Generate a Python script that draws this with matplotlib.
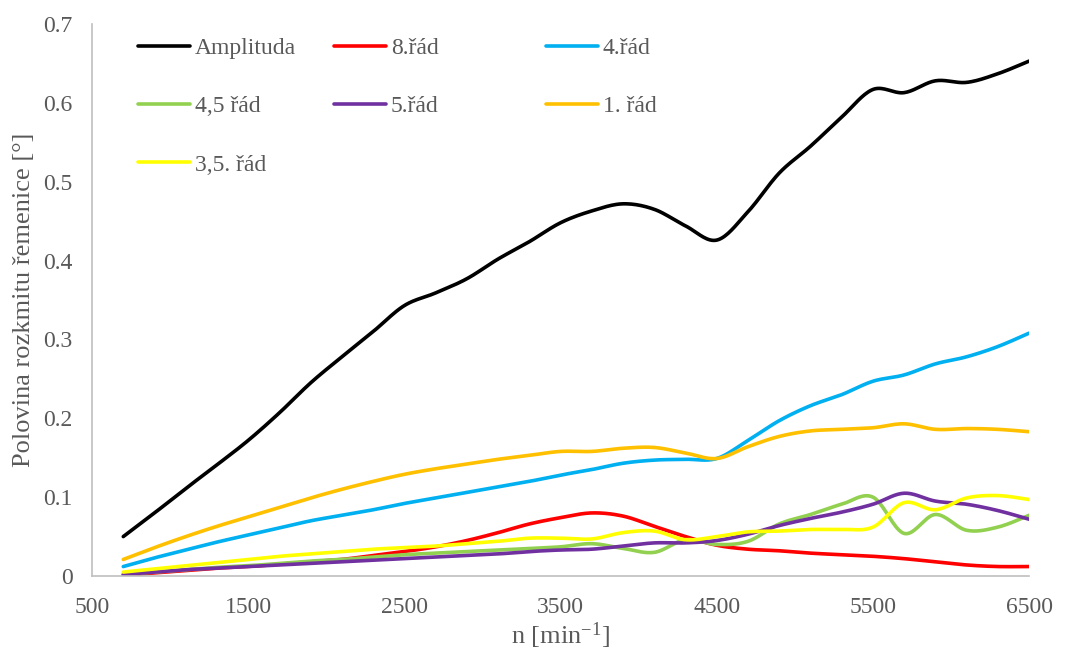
import numpy as np
import matplotlib
matplotlib.use("Agg")
import matplotlib.pyplot as plt

plt.rcParams['font.family'] = ['Liberation Serif', 'DejaVu Serif']
plt.rcParams['mathtext.default'] = 'regular'

# otacky [min-1]
rpm = [700, 900, 1100, 1300, 1500, 1700, 1900, 2100, 2300, 2500,
       2700, 2900, 3100, 3300, 3500, 3700, 3900, 4100, 4300, 4500,
       4700, 4900, 5100, 5300, 5500, 5700, 5900, 6100, 6300, 6500]

amplituda = [0.050, 0.080, 0.111, 0.141, 0.172, 0.207, 0.245, 0.278, 0.310, 0.343,
             0.359, 0.377, 0.402, 0.424, 0.448, 0.463, 0.472, 0.465, 0.444, 0.426,
             0.462, 0.511, 0.545, 0.582, 0.617, 0.613, 0.628, 0.626, 0.637, 0.653]
rad8 = [0.001, 0.004, 0.007, 0.010, 0.012, 0.015, 0.018, 0.021, 0.026, 0.031,
        0.037, 0.045, 0.055, 0.066, 0.074, 0.080, 0.076, 0.063, 0.050, 0.039,
        0.034, 0.032, 0.029, 0.027, 0.025, 0.022, 0.018, 0.014, 0.012, 0.012]
rad4 = [0.012, 0.023, 0.033, 0.043, 0.052, 0.061, 0.070, 0.077, 0.084, 0.092,
        0.099, 0.106, 0.113, 0.120, 0.128, 0.135, 0.143, 0.147, 0.148, 0.149,
        0.172, 0.197, 0.216, 0.230, 0.247, 0.255, 0.269, 0.278, 0.291, 0.308]
rad45 = [0.002, 0.005, 0.008, 0.011, 0.013, 0.016, 0.019, 0.021, 0.024, 0.027,
         0.029, 0.031, 0.033, 0.035, 0.037, 0.041, 0.035, 0.030, 0.046, 0.040,
         0.044, 0.066, 0.078, 0.091, 0.100, 0.054, 0.078, 0.058, 0.062, 0.077]
rad5 = [0.002, 0.005, 0.008, 0.010, 0.012, 0.014, 0.016, 0.018, 0.020, 0.022,
        0.024, 0.026, 0.028, 0.031, 0.033, 0.034, 0.038, 0.042, 0.042, 0.045,
        0.053, 0.064, 0.073, 0.081, 0.091, 0.105, 0.095, 0.091, 0.083, 0.072]
rad1 = [0.021, 0.036, 0.050, 0.063, 0.075, 0.087, 0.099, 0.110, 0.120, 0.129,
        0.136, 0.142, 0.148, 0.153, 0.158, 0.158, 0.162, 0.163, 0.156, 0.149,
        0.164, 0.177, 0.184, 0.186, 0.188, 0.193, 0.186, 0.187, 0.186, 0.183]
rad35 = [0.005, 0.009, 0.013, 0.017, 0.021, 0.025, 0.028, 0.031, 0.034, 0.036,
         0.038, 0.041, 0.044, 0.048, 0.048, 0.047, 0.055, 0.057, 0.046, 0.050,
         0.056, 0.057, 0.059, 0.059, 0.062, 0.093, 0.084, 0.099, 0.102, 0.097]

series = [
    ("Amplituda", amplituda, "#000000"),
    ("8.řád", rad8, "#FF0000"),
    ("4.řád", rad4, "#00B0F0"),
    ("4,5 řád", rad45, "#92D050"),
    ("5.řád", rad5, "#7030A0"),
    ("1. řád", rad1, "#FFC000"),
    ("3,5. řád", rad35, "#FFFF00"),
]


# vyhlazeni jako v Excelu (Bezier pres Catmull-Rom body)
def smooth(x, y, n=20):
    p = np.column_stack([x, y]).astype(float)
    p = np.vstack([p[0], p, p[-1]])
    out = []
    t = np.linspace(0, 1, n)[:, None]
    for i in range(1, len(p) - 2):
        p0, p1, p2, p3 = p[i - 1], p[i], p[i + 1], p[i + 2]
        c1 = p1 + (p2 - p0) / 6
        c2 = p2 - (p3 - p1) / 6
        seg = ((1 - t) ** 3) * p1 + 3 * ((1 - t) ** 2) * t * c1 + 3 * (1 - t) * t ** 2 * c2 + t ** 3 * p2
        out.append(seg if i == 1 else seg[1:])
    out = np.vstack(out)
    return out[:, 0], out[:, 1]


fig = plt.figure(figsize=(10.74, 6.53), dpi=100)
ax = fig.add_axes([0.0857, 0.1179, 0.8725, 0.8453])

lines = {}
for name, vals, col in series:
    sx, sy = smooth(rpm, vals)
    ln, = ax.plot(sx, sy, color=col, lw=2.6, solid_capstyle='round', label=name)
    lines[name] = ln

ax.set_xlim(500, 6500)
ax.set_ylim(0, 0.7)
ax.set_xticks(np.arange(500, 6501, 1000))
ax.set_yticks(np.arange(0, 0.71, 0.1))
ax.set_yticklabels(["0", "0.1", "0.2", "0.3", "0.4", "0.5", "0.6", "0.7"])
ax.tick_params(length=0, labelsize=17, labelcolor="#595959")
ax.tick_params(axis='y', pad=14)
ax.tick_params(axis='x', pad=15)
for s in ["top", "right"]:
    ax.spines[s].set_visible(False)
for s in ["left", "bottom"]:
    ax.spines[s].set_color("#BFBFBF")
    ax.spines[s].set_linewidth(1.2)

ax.set_xlabel("n [min$^{\\mathregular{-1}}$]", fontsize=19, color="#595959", labelpad=2)
ax.set_ylabel("Polovina rozkmitu řemenice [°]", fontsize=19, color="#595959", labelpad=6)

# legenda po sloupcich (Excel ma stejne siroke sloupce)
cols = [["Amplituda", "4,5 řád", "3,5. řád"], ["8.řád", "5.řád"], ["4.řád", "1. řád"]]
xpos = [0.0491, 0.2583, 0.4846]
for i, (names, xp) in enumerate(zip(cols, xpos)):
    leg = ax.legend([lines[n] for n in names], names, loc="upper left",
                    bbox_to_anchor=(xp, 0.975), frameon=False, fontsize=17,
                    handlelength=2.2, handletextpad=0.2, labelspacing=1.55,
                    borderpad=0, borderaxespad=0, labelcolor="#595959")
    if i < len(cols) - 1:
        ax.add_artist(leg)

fig.savefig("out.png", dpi=100)
